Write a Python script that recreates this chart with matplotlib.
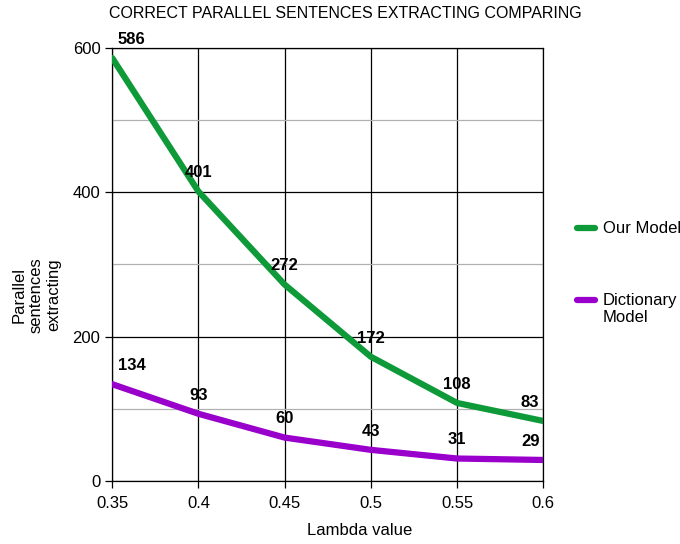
import matplotlib.pyplot as plt
from matplotlib.lines import Line2D
from matplotlib.ticker import MultipleLocator

plt.rcParams['font.family'] = ['Liberation Sans', 'DejaVu Sans']

lambdas = [0.35, 0.4, 0.45, 0.5, 0.55, 0.6]
our_model = [586, 401, 272, 172, 108, 83]
dict_model = [134, 93, 60, 43, 31, 29]
green = '#0e9a38'
purple = '#9a00cc'

fig = plt.figure(figsize=(6.8, 5.44), dpi=100)
ax = fig.add_axes([0.165, 0.116, 0.634, 0.796])

ax.plot(lambdas, our_model, color=green, lw=4.5, solid_capstyle='round',
        solid_joinstyle='round', zorder=3)
ax.plot(lambdas, dict_model, color=purple, lw=4.5, solid_capstyle='round',
        solid_joinstyle='round', zorder=3)

# value labels above points (first shifted right, last shifted left)
for series in (our_model, dict_model):
    for i, (x, y) in enumerate(zip(lambdas, series)):
        dx = 0
        if i == 0:
            dx = 14
        elif i == len(lambdas) - 1:
            dx = -9.5
        ax.annotate(str(y), (x, y), xytext=(dx, 8), textcoords='offset points',
                    ha='center', va='bottom', fontsize=12, fontweight='bold')

ax.set_xlim(0.35, 0.6)
ax.set_ylim(0, 600)
ax.set_xticks(lambdas)
ax.set_xticklabels(['0.35', '0.4', '0.45', '0.5', '0.55', '0.6'])
ax.yaxis.set_major_locator(MultipleLocator(200))
ax.yaxis.set_minor_locator(MultipleLocator(100))
ax.grid(True, which='major', color='black', lw=0.9)
ax.grid(True, which='minor', axis='y', color='#b0b0b0', lw=0.9)
ax.tick_params(which='minor', length=0)
ax.tick_params(which='major', length=5, labelsize=12, direction='out', width=0.9)
ax.tick_params(axis='x', pad=6)
for s in ax.spines.values():
    s.set_linewidth(0.9)

ax.set_xlabel('Lambda value', fontsize=12)
ax.xaxis.set_label_coords(0.575, -0.115)
ax.xaxis.label.set_va('center')
ax.set_ylabel('Parallel\nsentences\nextracting', fontsize=12, linespacing=1.2)
ax.yaxis.set_label_coords(-0.176, 0.43)
ax.yaxis.label.set_va('center')
fig.text(345 / 680, 1 - 13 / 544, 'CORRECT PARALLEL SENTENCES EXTRACTING COMPARING',
         fontsize=11.5, ha='center', va='center')

# legend drawn by hand so the handle sits on the first label line
legend_items = [('Our Model', green, 228), ('Dictionary\nModel', purple, 300)]
for label, color, ypix in legend_items:
    yf = 1 - ypix / 544
    fig.add_artist(Line2D([577 / 680, 595 / 680], [yf, yf], color=color, lw=4.5,
                          solid_capstyle='round', transform=fig.transFigure))
    fig.text(603 / 680, yf + 7 / 544, label, fontsize=12, ha='left', va='top',
             linespacing=1.2)

fig.savefig('out.png', dpi=100)
